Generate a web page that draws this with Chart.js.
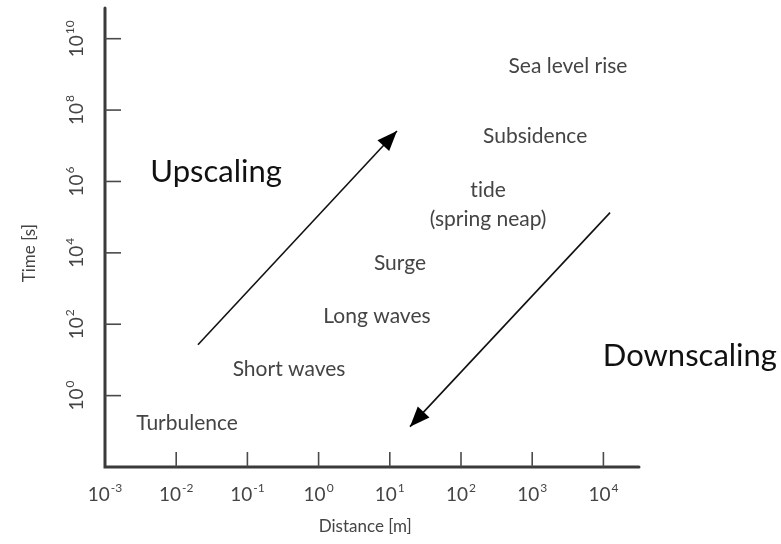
<!DOCTYPE html>
<html>
<head>
<meta charset="utf-8">
<script src="https://cdn.jsdelivr.net/npm/chart.js@4/dist/chart.umd.min.js"></script>
<style>
  html, body { margin: 0; padding: 0; background: #ffffff; }
  #wrap { width: 781px; height: 544px; }
</style>
</head>
<body>
<div id="wrap"><canvas id="c" width="781" height="544"></canvas></div>
<script>
// Processes placed by characteristic length [m] and time [s]
const processNames = ['Turbulence', 'Short waves', 'Long waves', 'Surge', 'tide\n(spring neap)', 'Subsidence', 'Sea level rise'];
const processDistance = [0.0142, 0.384, 6.6, 13.9, 240, 1100, 3180];
const processTime = [0.164, 5.35, 163, 5000, 2.24e5, 1.8e7, 1.65e9];

// Scaling arrows (start -> tip)
const upscalingDistance = [0.0202, 12.6];
const upscalingTime = [26.7, 2.6e7];
const downscalingDistance = [12400, 19.2];
const downscalingTime = [1.34e5, 0.135];

// Arrow captions
const captionNames = ['Upscaling', 'Downscaling'];
const captionDistance = [0.0363, 1.64e5];
const captionTime = [1.87e6, 13.2];

// Tick exponents
const xTickExponents = [-3, -2, -1, 0, 1, 2, 3, 4];
const yTickExponents = [0, 2, 4, 6, 8, 10];

const pairs = (xs, ys) => xs.map((x, i) => ({ x: x, y: ys[i] }));

const LABEL_FONT = 'Lato, "Open Sans", sans-serif';
const CAPTION_FONT = 'Lato, "Open Sans", sans-serif';

// keep "ti" / "fi" as separate glyphs
const noLigatures = s => s.replace(/([tf])([ifl])/g, '$1\u200C$2');

function drawPower(ctx, exp, cx, cy, rotated) {
  const base = '10';
  const sup = String(exp);
  ctx.save();
  ctx.translate(cx, cy);
  if (rotated) ctx.rotate(-Math.PI / 2);
  ctx.font = '19px ' + LABEL_FONT;
  const bw = ctx.measureText(base).width;
  ctx.font = '12px ' + LABEL_FONT;
  const sw = ctx.measureText(sup).width;
  const total = bw + sw + 1;
  ctx.fillStyle = '#444444';
  ctx.textBaseline = 'middle';
  ctx.textAlign = 'left';
  ctx.font = '19px ' + LABEL_FONT;
  ctx.fillText(base, -total / 2, 0);
  ctx.font = '12px ' + LABEL_FONT;
  ctx.fillText(sup, -total / 2 + bw + 1, -7);
  ctx.restore();
}

const decorations = {
  id: 'decorations',
  afterDatasetsDraw(chart) {
    const ctx = chart.ctx;
    const xs = chart.scales.x, ys = chart.scales.y;
    const left = xs.getPixelForValue(1e-3);
    const area = chart.chartArea;

    ctx.save();
    // axis lines
    ctx.strokeStyle = '#3a3a3a';
    ctx.lineWidth = 3;
    ctx.lineCap = 'round';
    ctx.beginPath();
    ctx.moveTo(left, area.top);
    ctx.lineTo(left, area.bottom);
    ctx.lineTo(area.right, area.bottom);
    ctx.stroke();

    // inward ticks
    ctx.strokeStyle = '#4a4a4a';
    ctx.lineWidth = 1.6;
    ctx.lineCap = 'butt';
    xTickExponents.forEach(e => {
      if (e === -3) return;
      const px = xs.getPixelForValue(Math.pow(10, e));
      ctx.beginPath();
      ctx.moveTo(px, area.bottom);
      ctx.lineTo(px, area.bottom - 15);
      ctx.stroke();
    });
    yTickExponents.forEach(e => {
      const py = ys.getPixelForValue(Math.pow(10, e));
      ctx.beginPath();
      ctx.moveTo(left, py);
      ctx.lineTo(left + 16, py);
      ctx.stroke();
    });

    // tick labels
    xTickExponents.forEach(e => {
      drawPower(ctx, e, xs.getPixelForValue(Math.pow(10, e)), area.bottom + 28, false);
    });
    yTickExponents.forEach(e => {
      drawPower(ctx, e, left - 28, ys.getPixelForValue(Math.pow(10, e)), true);
    });

    // axis titles
    ctx.fillStyle = '#444444';
    ctx.font = '17px ' + LABEL_FONT;
    ctx.textAlign = 'center';
    ctx.textBaseline = 'middle';
    ctx.fillText('Distance [m]', (left + xs.getPixelForValue(1e4)) / 2 + 11, area.bottom + 60);
    ctx.save();
    ctx.translate(30, (ys.getPixelForValue(1e10) + ys.getPixelForValue(1)) / 2 + 36);
    ctx.rotate(-Math.PI / 2);
    ctx.fillText('Time [s]', 0, 0);
    ctx.restore();

    // process labels
    ctx.fillStyle = '#444444';
    ctx.font = '21px ' + LABEL_FONT;
    processNames.forEach((name, i) => {
      const px = xs.getPixelForValue(processDistance[i]);
      const py = ys.getPixelForValue(processTime[i]);
      const lines = name.split('\n');
      const lh = 29;
      lines.forEach((ln, j) => {
        ctx.fillText(noLigatures(ln), px, py + (j - (lines.length - 1) / 2) * lh);
      });
    });

    // captions
    ctx.fillStyle = '#111111';
    ctx.font = '31px ' + CAPTION_FONT;
    captionNames.forEach((name, i) => {
      ctx.fillText(name, xs.getPixelForValue(captionDistance[i]), ys.getPixelForValue(captionTime[i]));
    });

    // arrowheads at the tip of each arrow dataset
    [[upscalingDistance, upscalingTime], [downscalingDistance, downscalingTime]].forEach(([dx, dy]) => {
      const x0 = xs.getPixelForValue(dx[0]), y0 = ys.getPixelForValue(dy[0]);
      const x1 = xs.getPixelForValue(dx[1]), y1 = ys.getPixelForValue(dy[1]);
      const a = Math.atan2(y1 - y0, x1 - x0);
      const len = 20, half = 8;
      ctx.fillStyle = '#000000';
      ctx.beginPath();
      ctx.moveTo(x1, y1);
      ctx.lineTo(x1 - len * Math.cos(a) + half * Math.sin(a), y1 - len * Math.sin(a) - half * Math.cos(a));
      ctx.lineTo(x1 - len * Math.cos(a) - half * Math.sin(a), y1 - len * Math.sin(a) + half * Math.cos(a));
      ctx.closePath();
      ctx.fill();
    });
    ctx.restore();
  }
};

const chart = new Chart(document.getElementById('c'), {
  type: 'scatter',
  data: {
    datasets: [
      {
        label: 'Upscaling',
        data: pairs(upscalingDistance, upscalingTime),
        showLine: true,
        borderColor: '#111111',
        borderWidth: 1.6,
        pointRadius: 0
      },
      {
        label: 'Downscaling',
        data: pairs(downscalingDistance, downscalingTime),
        showLine: true,
        borderColor: '#111111',
        borderWidth: 1.6,
        pointRadius: 0
      },
      {
        label: 'Processes',
        data: pairs(processDistance, processTime),
        pointRadius: 0,
        showLine: false
      }
    ]
  },
  options: {
    responsive: false,
    animation: false,
    events: [],
    layout: { padding: { left: 105, top: 8, right: 142, bottom: 77 } },
    plugins: { legend: { display: false }, tooltip: { enabled: false } },
    scales: {
      x: { type: 'logarithmic', min: 1e-3, max: Math.pow(10, 4.5), display: false },
      y: { type: 'logarithmic', min: 1e-2, max: Math.pow(10, 10.86), display: false }
    }
  },
  plugins: [decorations]
});

// redraw once the installed faces are ready
document.fonts.load('21px Lato').then(() => chart.draw()).catch(() => {});
document.fonts.ready.then(() => chart.draw());
</script>
</body>
</html>
